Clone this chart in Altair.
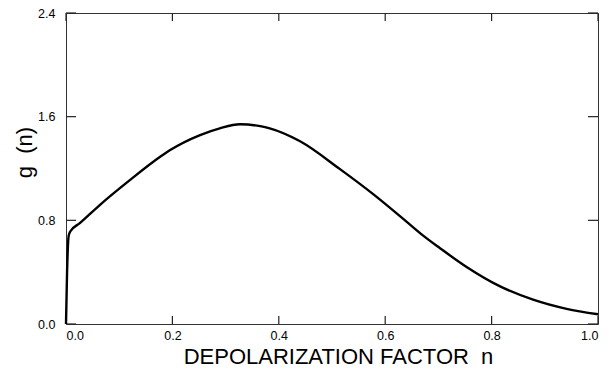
import altair as alt
import pandas as pd

# Curve
n_vals = [0.0, 0.002, 0.005, 0.008, 0.026, 0.064, 0.12, 0.177, 0.195, 0.252, 0.289,
          0.327, 0.365, 0.383, 0.44, 0.515, 0.578, 0.64, 0.672, 0.703, 0.753, 0.816,
          0.878, 0.941, 1.0]
g_vals = [0.0, 0.40, 0.68, 0.714, 0.778, 0.92, 1.11, 1.29, 1.34, 1.458, 1.51,
          1.542, 1.527, 1.51, 1.41, 1.195, 1.00, 0.79, 0.68, 0.585, 0.44, 0.29,
          0.188, 0.117, 0.075]

x_ticks = [0.0, 0.2, 0.4, 0.6, 0.8, 1.0]
y_ticks = [0.0, 0.8, 1.6, 2.4]

W, H = 532, 311
FONT = "Liberation Sans"

curve = pd.DataFrame({"n": n_vals, "g": g_vals})
xt = pd.DataFrame({"n": x_ticks})
yt = pd.DataFrame({"g": y_ticks})

xs = alt.Scale(domain=[0, 1], nice=False, zero=False)
ys = alt.Scale(domain=[0, 2.4], nice=False, zero=False)

line = alt.Chart(curve).mark_line(color="black", strokeWidth=2.4, interpolate="monotone").encode(
    x=alt.X("n:Q", scale=xs,
            axis=alt.Axis(values=x_ticks, format=".1f", ticks=False, domain=False, grid=False,
                          labelFontSize=12.5, labelPadding=5, labelFont=FONT, labelColor="black",
                          title="DEPOLARIZATION FACTOR\u00a0\u00a0n", titleFont=FONT,
                          titleFontSize=22, titleFontWeight="normal", titleColor="black",
                          titleX=272, titleY=32, titleBaseline="middle", titleAlign="center")),
    y=alt.Y("g:Q", scale=ys,
            axis=alt.Axis(values=y_ticks, format=".1f", ticks=False, domain=False, grid=False,
                          labelFontSize=12.5, labelPadding=11, labelFont=FONT, labelColor="black",
                          title="g\u00a0\u00a0(n)", titleFont=FONT, titleFontSize=22,
                          titleFontWeight="normal", titleColor="black",
                          titleX=-42, titleY=139, titleBaseline="middle", titleAlign="center",
                          titleAngle=-90)),
)

tick_color = "#222"
bottom_t = alt.Chart(xt).mark_rule(color=tick_color, strokeWidth=1.2).encode(
    x=alt.X("n:Q", scale=xs), y=alt.value(H), y2=alt.value(H - 8))
top_t = alt.Chart(xt).mark_rule(color=tick_color, strokeWidth=1.2).encode(
    x=alt.X("n:Q", scale=xs), y=alt.value(0), y2=alt.value(8))
left_t = alt.Chart(yt).mark_rule(color=tick_color, strokeWidth=1.2).encode(
    y=alt.Y("g:Q", scale=ys), x=alt.value(0), x2=alt.value(10))
right_t = alt.Chart(yt).mark_rule(color=tick_color, strokeWidth=1.2).encode(
    y=alt.Y("g:Q", scale=ys), x=alt.value(W), x2=alt.value(W - 10))

chart = alt.layer(bottom_t, top_t, left_t, right_t, line).properties(
    width=W, height=H,
    autosize=alt.AutoSizeParams(type="none"),
    padding={"left": 58, "top": 5, "right": 8, "bottom": 50},
    background="white",
).configure_view(stroke="#333", strokeWidth=1)

chart.save("out.html", embed_options={"renderer": "svg", "actions": False})
